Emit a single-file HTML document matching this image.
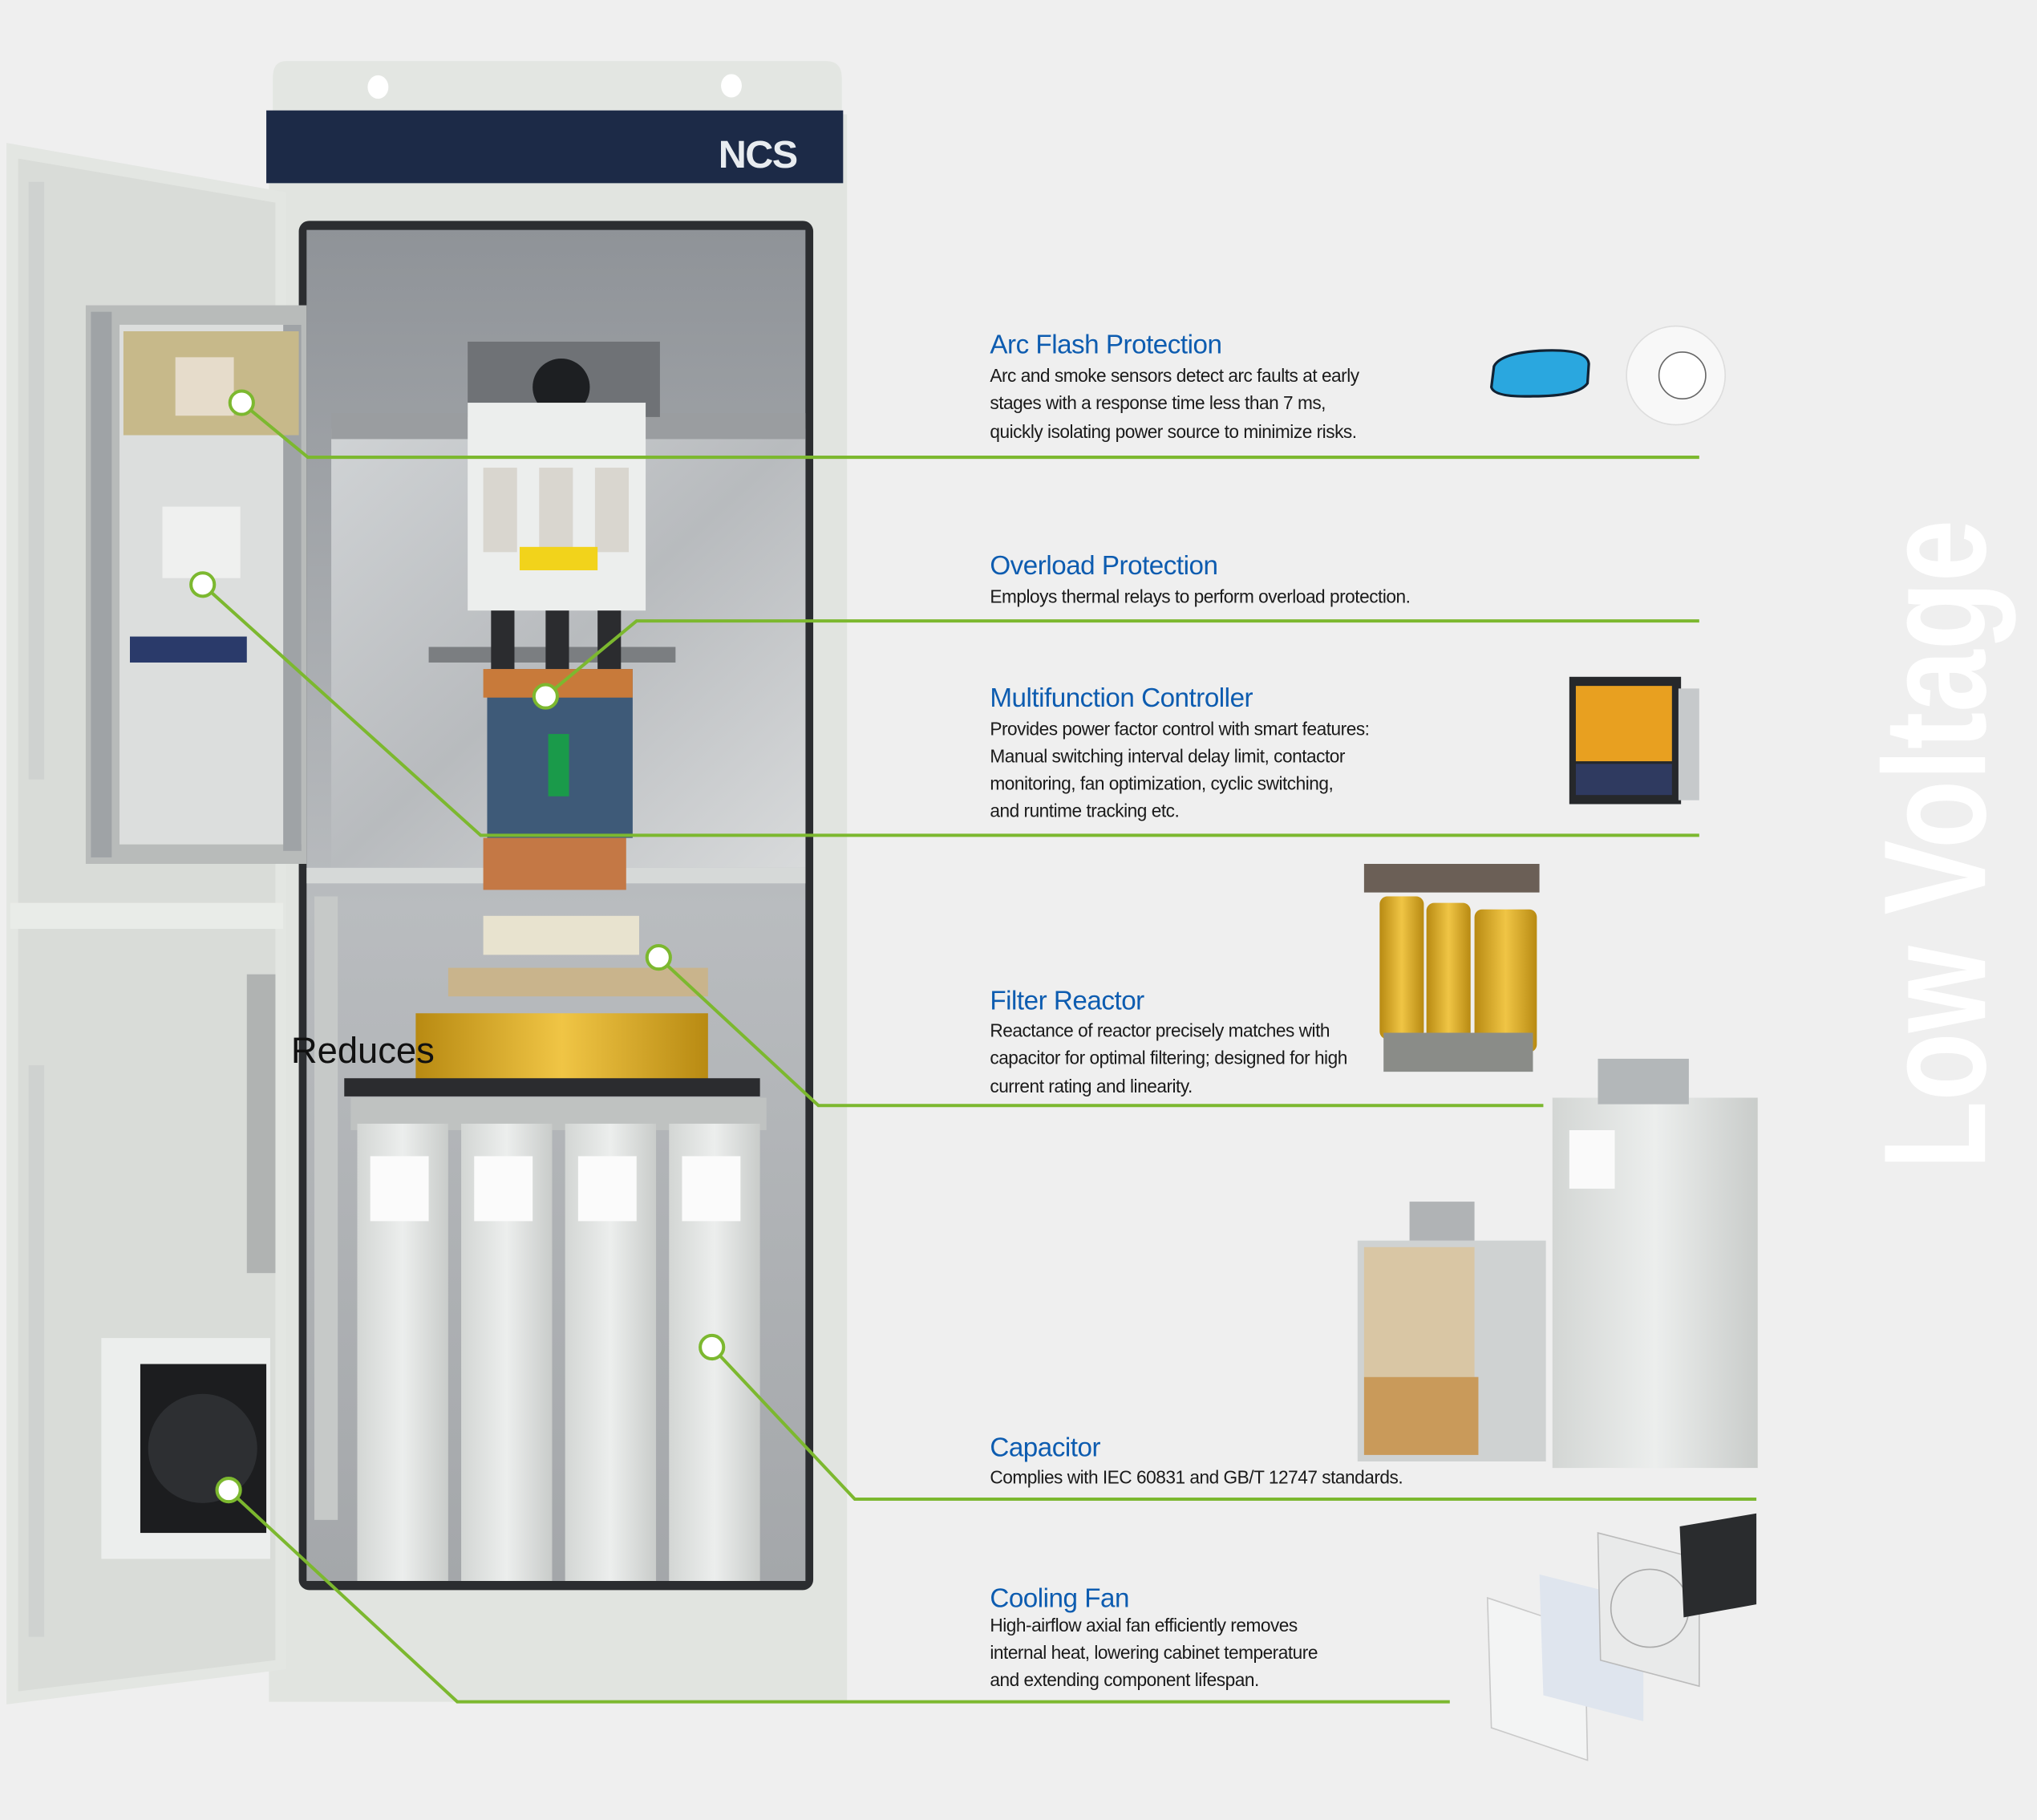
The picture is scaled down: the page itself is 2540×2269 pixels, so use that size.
<!DOCTYPE html>
<html><head><meta charset="utf-8"><style>
html,body{margin:0;padding:0;background:#efefef;}
svg{display:block;}
.t{font-family:"Liberation Sans",sans-serif;fill:#0d5cb0;font-size:20.5px;letter-spacing:-0.3px;}
.b{font-family:"Liberation Sans",sans-serif;fill:#1a1a1a;font-size:14px;letter-spacing:-0.3px;}
</style></head><body>
<svg width="2540" height="2269" viewBox="0 0 1568 1401" preserveAspectRatio="none" xmlns="http://www.w3.org/2000/svg">
<defs>
<linearGradient id="inner" x1="0" y1="0" x2="0" y2="1"><stop offset="0" stop-color="#8f9398"/><stop offset="0.5" stop-color="#b9bcbf"/><stop offset="1" stop-color="#a4a7aa"/></linearGradient>
<linearGradient id="galv" x1="0" y1="0" x2="1" y2="1"><stop offset="0" stop-color="#d0d3d5"/><stop offset="0.5" stop-color="#b8bbbe"/><stop offset="1" stop-color="#d8dadb"/></linearGradient>
<linearGradient id="cap" x1="0" y1="0" x2="1" y2="0"><stop offset="0" stop-color="#d3d6d4"/><stop offset="0.5" stop-color="#eceeed"/><stop offset="1" stop-color="#c9ccca"/></linearGradient>
<linearGradient id="coil" x1="0" y1="0" x2="1" y2="0"><stop offset="0" stop-color="#b88a12"/><stop offset="0.5" stop-color="#f0c545"/><stop offset="1" stop-color="#b88a12"/></linearGradient>
</defs>
<rect width="1568" height="1401" fill="#efefef"/>
<path d="M220 47 H636 Q648 47 648 60 V90 H210 V60 Q210 47 220 47Z" fill="#e3e6e2"/>
<ellipse cx="291" cy="67" rx="8" ry="9" fill="#fff"/><ellipse cx="563" cy="66" rx="8" ry="9" fill="#fff"/>
<rect x="207" y="88" width="445" height="1222" fill="#e1e4e0"/>
<rect x="205" y="85" width="444" height="56" fill="#1c2a47"/>
<text x="553" y="129" font-family="Liberation Sans,sans-serif" font-weight="bold" font-size="30" fill="#e8ecf0" letter-spacing="-1">NCS</text>
<rect x="230" y="170" width="396" height="1054" rx="8" fill="#2b2d30"/>
<rect x="236" y="177" width="384" height="1040" fill="url(#inner)"/>
<rect x="255" y="330" width="365" height="338" fill="url(#galv)"/>
<rect x="255" y="318" width="365" height="20" fill="#9a9da0"/>
<rect x="360" y="263" width="148" height="58" fill="#6f7276"/>
<circle cx="432" cy="298" r="22" fill="#1d1f22"/>
<rect x="360" y="310" width="137" height="160" fill="#eceeed"/>
<rect x="372" y="360" width="26" height="65" fill="#d9d6cf"/><rect x="415" y="360" width="26" height="65" fill="#d9d6cf"/><rect x="458" y="360" width="26" height="65" fill="#d9d6cf"/>
<rect x="400" y="421" width="60" height="18" fill="#f2d31b"/>
<rect x="330" y="498" width="190" height="12" fill="#7b7e81"/>
<rect x="378" y="470" width="18" height="50" fill="#2b2c2f"/><rect x="420" y="470" width="18" height="50" fill="#2b2c2f"/><rect x="460" y="470" width="18" height="50" fill="#2b2c2f"/>
<rect x="375" y="515" width="112" height="130" fill="#3e5a78"/>
<rect x="422" y="565" width="16" height="48" fill="#1a9a4a"/>
<rect x="372" y="515" width="115" height="22" fill="#c87a3a"/>
<rect x="236" y="668" width="384" height="12" fill="#d6d9d8"/>
<rect x="372" y="645" width="110" height="40" fill="#c47845"/>
<rect x="372" y="705" width="120" height="30" fill="#e8e3cf"/>
<rect x="345" y="745" width="200" height="22" fill="#c9b48c"/>
<rect x="320" y="780" width="225" height="60" fill="url(#coil)"/>
<rect x="265" y="830" width="320" height="14" fill="#2b2c2f"/>
<rect x="270" y="845" width="320" height="25" fill="#bfc2c1"/>
<g fill="url(#cap)"><rect x="275" y="865" width="70" height="352"/><rect x="355" y="865" width="70" height="352"/><rect x="435" y="865" width="70" height="352"/><rect x="515" y="865" width="70" height="352"/></g>
<g fill="#fbfbfb"><rect x="285" y="890" width="45" height="50"/><rect x="365" y="890" width="45" height="50"/><rect x="445" y="890" width="45" height="50"/><rect x="525" y="890" width="45" height="50"/></g>
<rect x="242" y="690" width="18" height="480" fill="#c6c9c8"/>
<path d="M5 110 L220 148 L220 1285 L5 1312 Z" fill="#e3e6e2"/>
<path d="M14 122 L212 156 L212 1278 L14 1302 Z" fill="#d9dcd8"/>
<rect x="66" y="235" width="170" height="430" fill="#b8bbba"/>
<rect x="92" y="250" width="140" height="400" fill="#dcdedd"/>
<rect x="70" y="240" width="16" height="420" fill="#9fa3a6"/><rect x="218" y="250" width="14" height="405" fill="#9fa3a6"/>
<rect x="95" y="255" width="135" height="80" fill="#c7b98a"/>
<rect x="135" y="275" width="45" height="45" fill="#e6dccb"/>
<rect x="125" y="390" width="60" height="55" fill="#eff0ef"/>
<rect x="100" y="490" width="90" height="20" fill="#2a3a6a"/>
<rect x="8" y="695" width="210" height="20" fill="#e9ece8"/>
<rect x="190" y="750" width="22" height="230" fill="#b0b3b2"/>
<rect x="78" y="1030" width="130" height="170" fill="#eceeed"/>
<rect x="108" y="1050" width="97" height="130" fill="#1c1d1f"/>
<circle cx="156" cy="1115" r="42" fill="#2d2f32"/>
<rect x="22" y="140" width="12" height="460" fill="#cfd2d0"/><rect x="22" y="820" width="12" height="440" fill="#cfd2d0"/>
<text x="224" y="818" font-family="Liberation Sans,sans-serif" font-size="28" fill="#111">Reduces</text>
<path d="M1150 282 Q1155 272 1185 270 Q1222 268 1223 280 L1222 295 Q1215 305 1180 305 Q1150 306 1148 298Z" fill="#2aa7df" stroke="#123" stroke-width="2"/>
<circle cx="1290" cy="289" r="38" fill="#f8f8f8" stroke="#ddd"/>
<circle cx="1295" cy="289" r="18" fill="#fff" stroke="#666" stroke-width="1"/>
<rect x="1208" y="521" width="86" height="98" fill="#26282b"/>
<rect x="1292" y="530" width="16" height="86" fill="#c6c9cb"/>
<rect x="1213" y="528" width="74" height="58" fill="#e8a020"/>
<rect x="1213" y="588" width="74" height="24" fill="#2f3a60"/>
<rect x="1050" y="665" width="135" height="22" fill="#6b5f56"/>
<g fill="url(#coil)"><rect x="1062" y="690" width="34" height="110" rx="6"/><rect x="1098" y="695" width="34" height="110" rx="6"/><rect x="1135" y="700" width="48" height="110" rx="6"/></g>
<rect x="1065" y="795" width="115" height="30" fill="#8a8c88"/>
<rect x="1195" y="845" width="158" height="285" fill="url(#cap)"/>
<rect x="1230" y="815" width="70" height="35" fill="#b3b7b9"/>
<rect x="1208" y="870" width="35" height="45" fill="#fafafa"/>
<rect x="1045" y="955" width="145" height="170" fill="#cfd2d2"/>
<rect x="1050" y="960" width="85" height="100" fill="#d9c6a4"/>
<rect x="1050" y="1060" width="88" height="60" fill="#c99a5a"/>
<rect x="1085" y="925" width="50" height="30" fill="#b0b3b5"/>
<path d="M1145 1230 L1220 1255 L1222 1355 L1148 1330Z" fill="#f3f4f4" stroke="#c9c9c9"/>
<path d="M1185 1212 L1265 1232 L1265 1325 L1188 1305Z" fill="#dfe5ee"/>
<path d="M1230 1180 L1308 1200 L1308 1298 L1232 1278Z" fill="#e9eaea" stroke="#bbb"/>
<circle cx="1270" cy="1238" r="30" fill="none" stroke="#aaa"/>
<path d="M1293 1175 L1352 1165 L1352 1235 L1296 1245Z" fill="#2a2c2e"/>
<text transform="translate(1528 900) rotate(-90)" font-family="Liberation Sans,sans-serif" font-weight="bold" font-size="112" fill="#ffffff" textLength="500" lengthAdjust="spacingAndGlyphs">Low Voltage</text>
<g fill="none" stroke="#7cb82f" stroke-width="2.5">
<polyline points="186,310 237,352 1308,352"/>
<polyline points="420,536 490,478 1308,478"/>
<polyline points="156,450 370,643 1308,643"/>
<polyline points="507,737 630,851 1188,851"/>
<polyline points="548,1037 658,1154 1352,1154"/>
<polyline points="176,1147 352,1310 1116,1310"/>
</g>
<g fill="#fff" stroke="#7cb82f" stroke-width="2.5">
<circle cx="186" cy="310" r="9"/><circle cx="420" cy="536" r="9"/><circle cx="156" cy="450" r="9"/>
<circle cx="507" cy="737" r="9"/><circle cx="548" cy="1037" r="9"/><circle cx="176" cy="1147" r="9"/>
</g>
<text class="t" x="762" y="272">Arc Flash Protection</text>
<text class="b" x="762" y="294">Arc and smoke sensors detect arc faults at early</text>
<text class="b" x="762" y="315">stages with a response time less than 7 ms,</text>
<text class="b" x="762" y="337">quickly isolating power source to minimize risks.</text>
<text class="t" x="762" y="442">Overload Protection</text>
<text class="b" x="762" y="464">Employs thermal relays to perform overload protection.</text>
<text class="t" x="762" y="544">Multifunction Controller</text>
<text class="b" x="762" y="566">Provides power factor control with smart features:</text>
<text class="b" x="762" y="587">Manual switching interval delay limit, contactor</text>
<text class="b" x="762" y="608">monitoring, fan optimization, cyclic switching,</text>
<text class="b" x="762" y="629">and runtime tracking etc.</text>
<text class="t" x="762" y="777">Filter Reactor</text>
<text class="b" x="762" y="798">Reactance of reactor precisely matches with</text>
<text class="b" x="762" y="819">capacitor for optimal filtering; designed for high</text>
<text class="b" x="762" y="841">current rating and linearity.</text>
<text class="t" x="762" y="1121">Capacitor</text>
<text class="b" x="762" y="1142">Complies with IEC 60831 and GB/T 12747 standards.</text>
<text class="t" x="762" y="1237">Cooling Fan</text>
<text class="b" x="762" y="1256">High-airflow axial fan efficiently removes</text>
<text class="b" x="762" y="1277">internal heat, lowering cabinet temperature</text>
<text class="b" x="762" y="1298">and extending component lifespan.</text>
</svg>
</body></html>
